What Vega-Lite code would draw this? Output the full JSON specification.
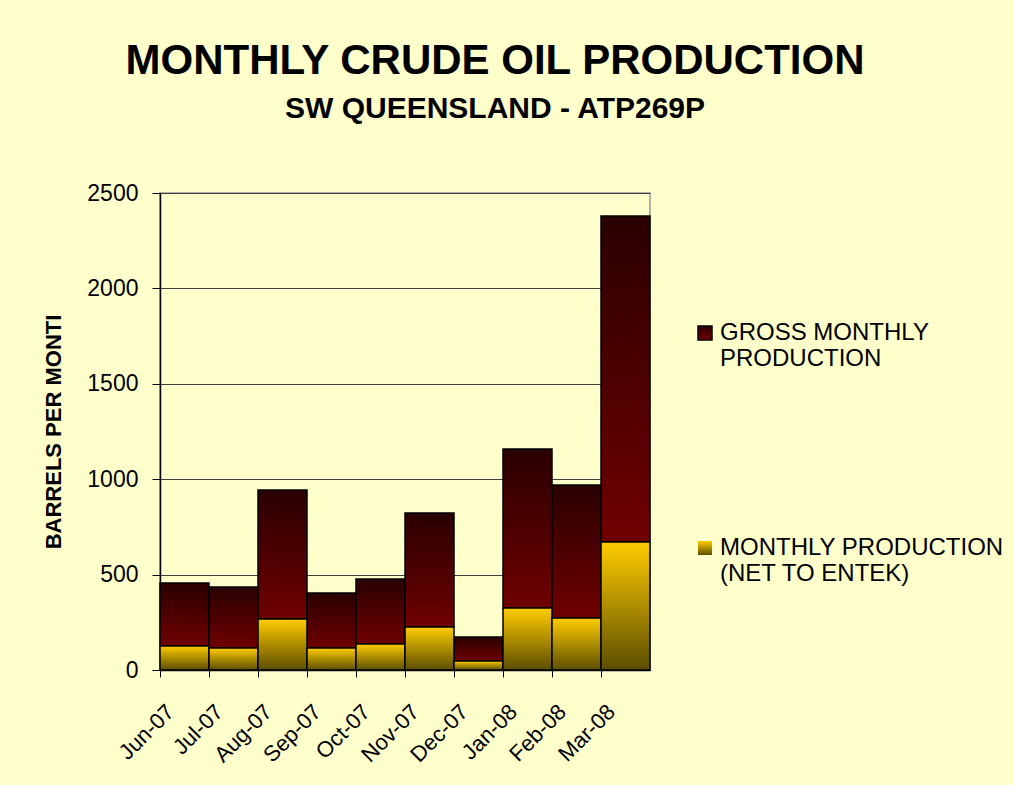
{
  "$schema": "https://vega.github.io/schema/vega-lite/v6.json",
  "width": 490,
  "height": 477,
  "autosize": "none",
  "padding": {"left": 160, "top": 193, "right": 364, "bottom": 115},
  "background": "#ffffcc",
  "title": {
    "text": "MONTHLY CRUDE OIL PRODUCTION",
    "subtitle": "SW QUEENSLAND - ATP269P",
    "anchor": "middle",
    "frame": "group",
    "dx": 90,
    "offset": 57,
    "font": "Liberation Sans",
    "fontSize": 42,
    "fontWeight": "bold",
    "color": "#000000",
    "subtitleFont": "Liberation Sans",
    "subtitleFontSize": 30,
    "subtitleFontWeight": "bold",
    "subtitleColor": "#000000",
    "subtitlePadding": 11
  },
  "data": {
    "values": [
      {"month": "Jun-07", "gross": 456, "net": 126},
      {"month": "Jul-07", "gross": 435, "net": 115},
      {"month": "Aug-07", "gross": 943, "net": 267},
      {"month": "Sep-07", "gross": 404, "net": 115},
      {"month": "Oct-07", "gross": 477, "net": 136},
      {"month": "Nov-07", "gross": 823, "net": 225},
      {"month": "Dec-07", "gross": 173, "net": 47},
      {"month": "Jan-08", "gross": 1158, "net": 325},
      {"month": "Feb-08", "gross": 970, "net": 273},
      {"month": "Mar-08", "gross": 2380, "net": 671}
    ]
  },
  "encoding": {
    "x": {
      "field": "month",
      "type": "ordinal",
      "sort": null,
      "scale": {"paddingInner": 0, "paddingOuter": 0},
      "axis": {
        "title": null,
        "bandPosition": 0,
        "labelAngle": -45,
        "labelAlign": "right",
        "labelBaseline": "middle",
        "labelFont": "Liberation Sans",
        "labelFontSize": 22,
        "labelColor": "#000000",
        "labelPadding": 31,
        "labelOffset": -14,
        "tickSize": 7,
        "tickColor": "#000000",
        "domainColor": "#000000",
        "domainWidth": 1.5
      }
    }
  },
  "layer": [
    {
      "mark": {
        "type": "bar",
        "strokeWidth": 1.5,
        "fill": {"gradient": "linear", "x1": 0, "y1": 0, "x2": 0, "y2": 1, "stops": [{"offset": 0, "color": "#2a0000"}, {"offset": 1, "color": "#700000"}]},
        "fillOpacity": 1
      },
      "encoding": {
        "y": {
          "field": "gross",
          "type": "quantitative",
          "scale": {"domain": [0, 2500], "nice": false},
          "axis": {
            "title": "BARRELS PER MONTI",
            "titleFont": "Liberation Sans",
            "titleFontSize": 22,
            "titleFontWeight": "bold",
            "titleColor": "#000000",
            "titlePadding": 21,
            "values": [0, 500, 1000, 1500, 2000, 2500],
            "format": "d",
            "labelFont": "Liberation Sans",
            "labelFontSize": 23,
            "labelColor": "#000000",
            "labelPadding": 14,
            "tickSize": 8,
            "tickColor": "#000000",
            "domainColor": "#000000",
            "domainWidth": 1.5,
            "grid": true,
            "gridColor": "#404040",
            "gridWidth": 1,
            "gridOpacity": 1
          }
        },
        "y2": {"field": "net"},
        "stroke": {
          "datum": "GROSS MONTHLY PRODUCTION",
          "type": "nominal",
          "scale": {"range": ["#000000"]},
          "legend": {
            "title": null,
            "orient": "none",
            "legendX": 533,
            "legendY": 128,
            "symbolType": "square",
            "symbolSize": 196,
            "symbolStrokeColor": "#000000",
            "symbolStrokeWidth": 1.5,
            "symbolOpacity": 1,
            "labelFont": "Liberation Sans",
            "labelFontSize": 24,
            "labelColor": "#000000",
            "labelLimit": 400,
            "labelOffset": 3,
            "labelExpr": "['GROSS MONTHLY', 'PRODUCTION']",
            "encode": {
              "labels": {"update": {"lineHeight": {"value": 30}, "dy": {"value": 12}}}
            }
          }
        }
      }
    },
    {
      "mark": {
        "type": "bar",
        "stroke": "#000000",
        "fill": {"gradient": "linear", "x1": 0, "y1": 0, "x2": 0, "y2": 1, "stops": [{"offset": 0, "color": "#ffcc00"}, {"offset": 1, "color": "#5c4e00"}]},
        "fillOpacity": 1
      },
      "encoding": {
        "y": {"field": "net", "type": "quantitative"},
        "strokeWidth": {
          "datum": "MONTHLY PRODUCTION (NET TO ENTEK)",
          "type": "nominal",
          "scale": {"type": "ordinal", "range": [1.5]},
          "legend": {
            "title": null,
            "orient": "none",
            "legendX": 533,
            "legendY": 343,
            "symbolType": "square",
            "symbolSize": 196,
            "symbolStrokeColor": "#000000",
            "symbolOpacity": 1,
            "labelFont": "Liberation Sans",
            "labelFontSize": 24,
            "labelColor": "#000000",
            "labelLimit": 400,
            "labelOffset": 3,
            "labelExpr": "['MONTHLY PRODUCTION', '(NET TO ENTEK)']",
            "encode": {
              "labels": {"update": {"lineHeight": {"value": 30}, "dy": {"value": 12}}}
            }
          }
        }
      }
    }
  ],
  "config": {
    "view": {"stroke": "#999999", "strokeWidth": 1.5},
    "font": "Liberation Sans"
  }
}
